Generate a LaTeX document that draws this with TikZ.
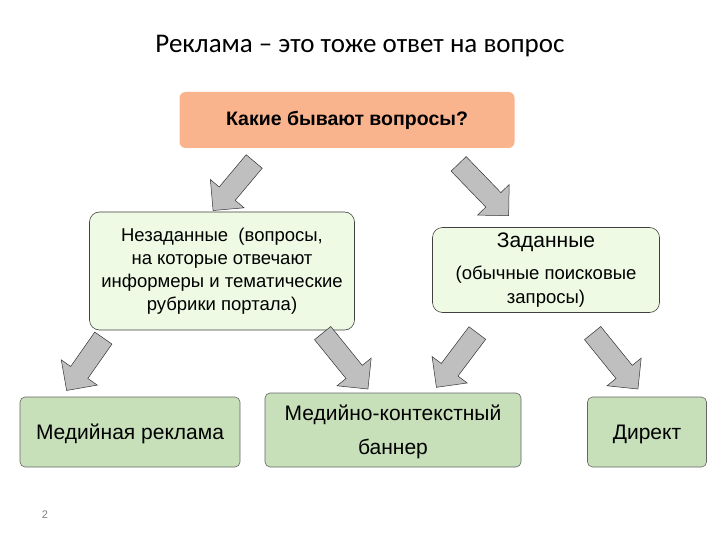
\documentclass[tikz,border=0pt]{standalone}
\usepackage{fontspec}
\setmainfont{Liberation Sans}
\newfontfamily\titlefont{Carlito}
\usetikzlibrary{shapes.arrows}
\definecolor{topfill}{HTML}{F9B38D}
\definecolor{midfill}{HTML}{EEFAE4}
\definecolor{botfill}{HTML}{C7E0BA}
\definecolor{arrfill}{HTML}{BFBFBF}
\tikzset{
  box/.style={draw=black!75, rounded corners=7pt, align=center, line width=0.6pt},
  topbox/.style={box, draw=none, fill=topfill, rounded corners=6pt},
  midbox/.style={box, fill=midfill, rounded corners=10pt},
  botbox/.style={box, fill=botfill, draw=black!60, rounded corners=5pt, text depth=0pt},
  barrow/.style={single arrow, draw=black!80, fill=arrfill, line width=0.5pt,
    minimum height=#1, minimum width=44pt, single arrow head extend=8pt,
    single arrow head indent=0pt, inner sep=7pt, anchor=center}
}
\begin{document}
\begin{tikzpicture}[x=1pt,y=-1pt]
\useasboundingbox (0,0) rectangle (720,540);
\node (title) at (360,46) {\titlefont\fontsize{27}{32}\selectfont Реклама – это тоже ответ на вопрос};
\node[topbox, minimum width=335pt, minimum height=56pt, font=\bfseries\fontsize{19.5}{22}\selectfont] (q) at (347,120) {Какие бывают вопросы?};
\node[midbox, minimum width=265pt, minimum height=118pt, font=\fontsize{18.5}{23}\selectfont] (l) at (222,271) {Незаданные \ (вопросы,\\на которые отвечают\\информеры и тематические\\рубрики портала)};
\node[midbox, minimum width=227pt, minimum height=85pt, font=\fontsize{18.5}{24}\selectfont] (r) at (546,270) {\fontsize{21}{24}\selectfont Заданные\\[8pt]\fontsize{18.5}{24}\selectfont (обычные поисковые\\запросы)};
\node[botbox, minimum width=220pt, minimum height=70pt, font=\fontsize{21}{25}\selectfont] (b1) at (130,432) {Медийная реклама};
\node[botbox, minimum width=256pt, minimum height=74pt, font=\fontsize{21}{34}\selectfont] (b2) at (393,430) {Медийно-контекстный\\баннер};
\node[botbox, minimum width=119pt, minimum height=70pt, font=\fontsize{21}{25}\selectfont] (b3) at (647,432) {Директ};
\node[text=black!50, font=\fontsize{11}{13}\selectfont] (pg) at (45,515) {2};
\node[barrow=64pt, rotate=230] (a1) at (237,182) {};
\node[barrow=72pt, rotate=-46] (a2) at (480,186) {};
\node[barrow=64pt, rotate=235] (a3) at (88,360) {};
\node[barrow=72pt, rotate=-51] (a4) at (342,357) {};
\node[barrow=68pt, rotate=233] (a5) at (460,356) {};
\node[barrow=72pt, rotate=-51] (a6) at (612,357) {};
\end{tikzpicture}
\end{document}
